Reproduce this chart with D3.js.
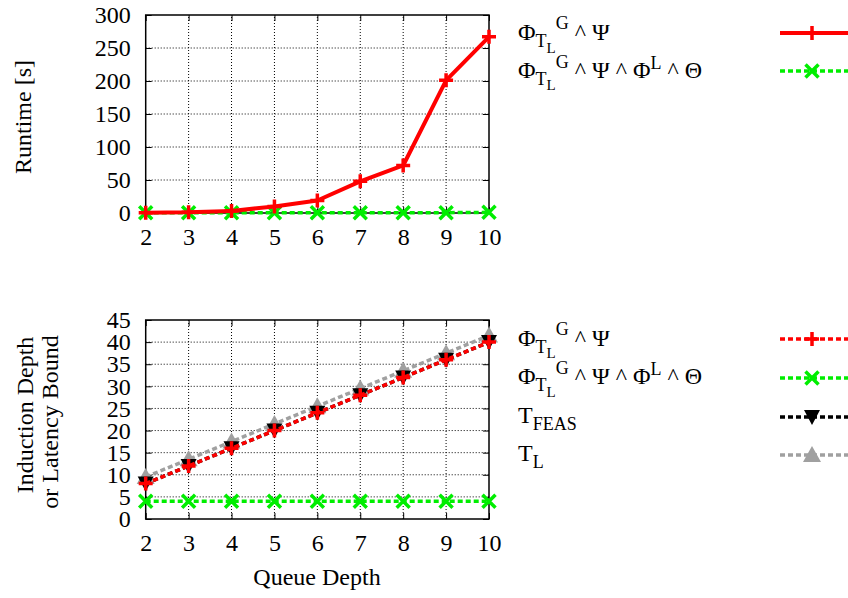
<!DOCTYPE html>
<html>
<head>
<meta charset="utf-8">
<script src="https://cdn.jsdelivr.net/npm/d3@7"></script>
<style>
  body { margin: 0; background: #fff; }
  text { font-family: "Liberation Serif", "DejaVu Serif", serif; }
</style>
</head>
<body>
<div id="chart"></div>
<script>
// data
var queueDepth = [2, 3, 4, 5, 6, 7, 8, 9, 10];
var runtimeGPsi = [0.5, 1, 3, 10, 19, 48, 72, 201, 267];
var runtimeGPsiLTheta = [0.5, 0.5, 0.5, 0.5, 0.5, 0.5, 0.5, 0.5, 1];
var depthGPsi = [8, 12, 16, 20, 24, 28, 32, 36, 40];
var depthGPsiLTheta = [4, 4, 4, 4, 4, 4, 4, 4, 4];
var depthTFeas = [8, 12, 16, 20, 24, 28, 32, 36, 40];
var depthTL = [9.5, 13.5, 17.5, 21.5, 25.5, 29.5, 33.5, 37.5, 41.5];
var topTicks = [0, 50, 100, 150, 200, 250, 300];
var botTicks = [0, 5, 10, 15, 20, 25, 30, 35, 40, 45];

var W = 848, H = 598;
var FS = 24;
var svg = d3.select("#chart").append("svg")
    .attr("width", W).attr("height", H);

var x = d3.scaleLinear().domain([2, 10]).range([145.7, 489]);
var yTop = d3.scaleLinear().domain([0, 300]).range([213, 15]);
var yBot = d3.scaleLinear().domain([0, 45]).range([519, 320]);

var markers = {
    plus: { d: "M-7,0H7M0,-7V7", fill: "none", stroke: true },
    cross: { d: "M-6.5,-6.5L6.5,6.5M-6.5,6.5L6.5,-6.5", fill: "none", stroke: true },
    tdown: { d: "M-8,-7L8,-7L0,8Z", fill: true, stroke: false },
    tup: { d: "M-9,7L9,7L0,-9Z", fill: true, stroke: false }
};

function drawPanel(y, ticks) {
    var g = svg.append("g");
    var x0 = x.range()[0], x1 = x.range()[1];
    var y0 = y.range()[0], y1 = y.range()[1];

    // grid
    g.selectAll(".gx").data(queueDepth.slice(1, -1)).enter().append("line")
        .attr("x1", function (d) { return x(d); }).attr("x2", function (d) { return x(d); })
        .attr("y1", y0).attr("y2", y1)
        .attr("stroke", "#000").attr("stroke-width", 1).attr("stroke-dasharray", "1,2");
    g.selectAll(".gy").data(ticks.slice(1, -1)).enter().append("line")
        .attr("x1", x0).attr("x2", x1)
        .attr("y1", function (d) { return y(d); }).attr("y2", function (d) { return y(d); })
        .attr("stroke", "#000").attr("stroke-width", 1).attr("stroke-dasharray", "1,2");

    // axes
    g.append("g").attr("transform", "translate(0," + y0 + ")")
        .call(d3.axisBottom(x).tickValues(queueDepth).tickSize(-6).tickPadding(15));
    g.append("g").attr("transform", "translate(" + x0 + ",0)")
        .call(d3.axisLeft(y).tickValues(ticks).tickSize(-6).tickPadding(15));
    g.append("g").attr("transform", "translate(" + x1 + ",0)")
        .call(d3.axisRight(y).tickValues(ticks).tickSize(-6).tickFormat(""));
    g.append("g").attr("transform", "translate(0," + y1 + ")")
        .call(d3.axisTop(x).tickValues(queueDepth).tickSize(-6).tickFormat(""));
    g.selectAll(".domain").remove();
    g.selectAll(".tick line").attr("stroke", "#000").attr("stroke-width", 1);
    g.selectAll(".tick text").attr("font-size", FS + "px").attr("fill", "#000")
        .attr("font-family", "Liberation Serif");

    g.append("rect").attr("x", x0).attr("y", y1)
        .attr("width", x1 - x0).attr("height", y0 - y1)
        .attr("fill", "none").attr("stroke", "#000").attr("stroke-width", 1.5);
    return g;
}

function drawSeries(g, y, values, color, dash, marker) {
    var pts = queueDepth.map(function (q, i) { return [q, values[i]]; });
    var line = d3.line().x(function (d) { return x(d[0]); }).y(function (d) { return y(d[1]); });
    g.append("path").datum(pts)
        .attr("d", line)
        .attr("fill", "none").attr("stroke", color).attr("stroke-width", dash ? 3.5 : 4)
        .attr("stroke-dasharray", dash ? "5,3" : null)
        .attr("stroke-linejoin", "round");
    var m = markers[marker];
    g.selectAll(null).data(pts).enter().append("path")
        .attr("transform", function (d) { return "translate(" + x(d[0]) + "," + y(d[1]) + ")"; })
        .attr("d", m.d)
        .attr("fill", m.fill === true ? color : "none")
        .attr("stroke", m.stroke ? color : "none")
        .attr("stroke-width", 3.5);
}

function legendEntry(yLine, yText, parts, color, dash, marker) {
    var t = svg.append("text").attr("x", 518).attr("y", yText).attr("fill", "#000");
    var prev = 0;
    parts.forEach(function (p) {
        t.append("tspan").attr("font-size", p[1] + "px")
            .attr("dy", p[2] - prev).text(p[0]);
        prev = p[2];
    });
    svg.append("line").attr("x1", 780).attr("x2", 848)
        .attr("y1", yLine).attr("y2", yLine)
        .attr("stroke", color).attr("stroke-width", dash ? 3.5 : 4)
        .attr("stroke-dasharray", dash ? "5,3" : null);
    var m = markers[marker];
    svg.append("path").attr("transform", "translate(812," + yLine + ")")
        .attr("d", m.d)
        .attr("fill", m.fill === true ? color : "none")
        .attr("stroke", m.stroke ? color : "none")
        .attr("stroke-width", 3.5);
}

var label1 = [["Φ", FS, 0], ["T", 18, 7], ["L", 15, 12.5], ["G", 18, -11], [" ^ Ψ", FS, 0]];
var label2 = [["Φ", FS, 0], ["T", 18, 7], ["L", 15, 12.5], ["G", 18, -10], [" ^ Ψ ^ Φ", FS, 0], ["L", 18, -9], [" ^ Θ", FS, 0]];

// top panel: runtime
var topPanel = drawPanel(yTop, topTicks);
drawSeries(topPanel, yTop, runtimeGPsiLTheta, "#00ee00", true, "cross");
drawSeries(topPanel, yTop, runtimeGPsi, "#ff0000", false, "plus");
legendEntry(33, 40, label1, "#ff0000", false, "plus");
legendEntry(71, 77.5, label2, "#00ee00", true, "cross");

svg.append("text").attr("transform", "translate(31,117) rotate(-90)")
    .attr("text-anchor", "middle").attr("font-size", FS + "px").text("Runtime [s]");

// bottom panel: depth
var botPanel = drawPanel(yBot, botTicks);
drawSeries(botPanel, yBot, depthTL, "#a0a0a0", true, "tup");
drawSeries(botPanel, yBot, depthTFeas, "#000000", true, "tdown");
drawSeries(botPanel, yBot, depthGPsiLTheta, "#00ee00", true, "cross");
drawSeries(botPanel, yBot, depthGPsi, "#ff0000", true, "plus");
legendEntry(339, 345.5, label1, "#ff0000", true, "plus");
legendEntry(378, 384, label2, "#00ee00", true, "cross");
legendEntry(417, 422.5, [["T", FS, 0], ["FEAS", 18, 7]], "#000000", true, "tdown");
legendEntry(455, 461, [["T", FS, 0], ["L", 18, 7]], "#a0a0a0", true, "tup");

svg.append("text").attr("transform", "translate(33,415) rotate(-90)")
    .attr("text-anchor", "middle").attr("font-size", FS + "px").text("Induction Depth");
svg.append("text").attr("transform", "translate(58,422) rotate(-90)")
    .attr("text-anchor", "middle").attr("font-size", FS + "px").text("or Latency Bound");

svg.append("text").attr("x", 317).attr("y", 585)
    .attr("text-anchor", "middle").attr("font-size", FS + "px").text("Queue Depth");
</script>
</body>
</html>
